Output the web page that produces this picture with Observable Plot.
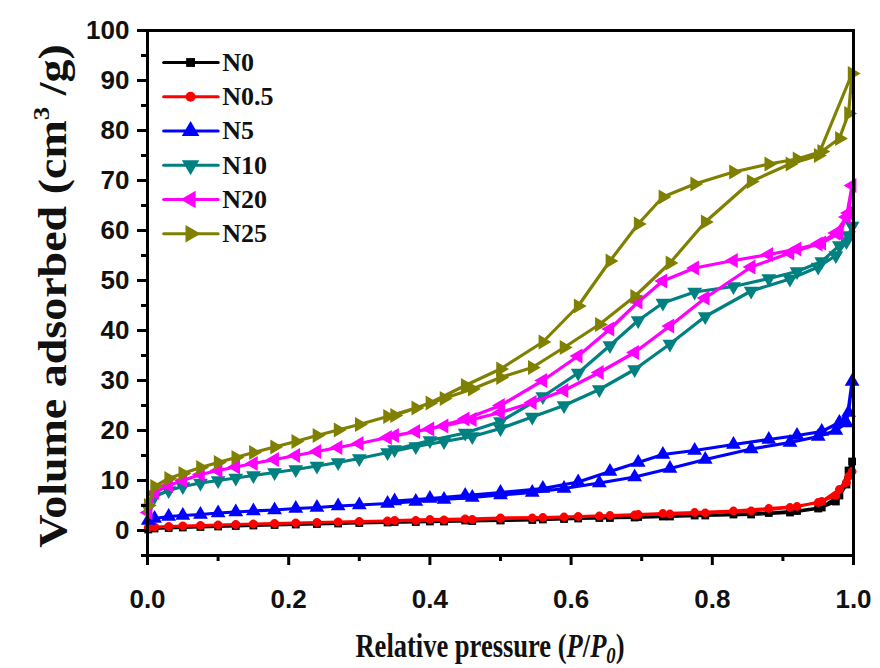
<!DOCTYPE html>
<html><head><meta charset="utf-8">
<script src="https://cdn.jsdelivr.net/npm/d3@7"></script>
<script src="https://cdn.jsdelivr.net/npm/@observablehq/plot@0.6"></script>
<style>
html,body{margin:0;padding:0;background:#fff;}
#chart{width:880px;height:668px;}
</style></head><body><div id="chart"></div>
<script>
// ---- data ----
const seriesNames = ["N0", "N0.5", "N5", "N10", "N20", "N25"];
const seriesColors = ["#000000", "#ff0000", "#0000ff", "#008080", "#ff00ff", "#808000"];
const seriesSymbols = ["square", "circle", "triangle", "triangle", "triangle", "triangle"];
const seriesRotate = [0, 0, 0, 180, -90, 90];

// relative pressure of adsorption points (increasing) and desorption points (decreasing)
const adsP = [0.001, 0.01, 0.03, 0.05, 0.075, 0.1, 0.125, 0.15, 0.18, 0.21, 0.24, 0.27, 0.3, 0.34, 0.38,
  0.42, 0.46, 0.5, 0.545, 0.59, 0.64, 0.69, 0.74, 0.79, 0.855, 0.91, 0.95, 0.975, 0.99, 0.998];
const desP = [0.993, 0.98, 0.955, 0.92, 0.88, 0.83, 0.775, 0.73, 0.695, 0.655, 0.61, 0.56, 0.5, 0.45, 0.4, 0.35];

// volume adsorbed (cm3/g); null = no point at that pressure
const adsN0 = [0.2, 0.4, 0.5, 0.6, 0.7, 0.8, 0.9, 1.0, 1.1, 1.2, 1.3, 1.4, 1.5, 1.6, 1.7,
  1.8, 1.9, 2.0, 2.1, 2.3, 2.5, 2.6, 2.8, 3.0, 3.2, 3.6, 4.4, 5.8, 9.2, 13.8];
const desN0 = [12.0, 7.0, 4.6, 3.9, 3.5, 3.2, 3.0, 2.8, 2.7, 2.5, 2.4, 2.2, 2.1, 2.0, 1.8, 1.7];

const adsN05 = [0.5, 0.7, 0.8, 0.9, 1.0, 1.1, 1.2, 1.3, 1.4, 1.5, 1.6, 1.7, 1.8, 1.9, 2.0,
  2.1, 2.2, 2.4, 2.5, 2.7, 2.9, 3.1, 3.3, 3.5, 3.9, 4.6, 5.6, 7.0, 9.6, 11.8];
const desN05 = [10.8, 8.2, 5.8, 4.8, 4.4, 3.9, 3.6, 3.4, 3.2, 3.0, 2.8, 2.6, 2.5, 2.3, 2.2, 2.0];

const adsN5 = [2.0, 2.4, 2.8, 3.0, 3.2, 3.5, 3.7, 3.9, 4.1, 4.4, 4.6, 4.9, 5.1, 5.4, 5.8,
  6.2, 6.6, 7.1, 7.6, 8.4, 9.5, 10.7, 12.4, 14.2, 16.3, 17.6, 18.8, 20.0, 21.5, 29.8];
const desN5 = [23.6, 21.6, 19.8, 19.0, 18.2, 17.2, 16.0, 15.2, 13.6, 11.8, 9.7, 8.4, 7.6, 7.0, 6.4, 5.9];

const adsN10 = [4.5, 6.8, 8.0, 8.8, 9.5, 10.0, 10.5, 11.0, 11.6, 12.2, 12.9, 13.6, 14.4, 15.6, 16.8,
  17.8, 18.8, 20.4, 22.7, 25.0, 28.2, 32.2, 37.3, 42.8, 47.9, 50.3, 52.7, 55.0, 57.8, 60.9];
const desN10 = [59.0, 57.0, 53.8, 51.8, 50.4, 48.8, 47.7, 45.5, 42.0, 37.0, 31.5, 26.8, 21.8, 19.5, 18.0, 16.2];

const adsN20 = [3.6, 7.6, 9.0, 10.0, 11.2, 12.0, 12.7, 13.4, 14.2, 15.0, 15.8, 16.6, 17.4, 18.6, 19.8,
  20.9, 22.2, 23.6, 25.6, 28.0, 31.6, 35.6, 40.9, 46.5, 52.7, 55.5, 57.3, 59.5, 62.7, 69.0];
const desN20 = [63.5, 59.5, 57.5, 56.3, 55.2, 54.0, 52.5, 49.9, 45.7, 40.3, 34.9, 30.0, 25.0, 22.3, 20.3, 19.0];

const adsN25 = [5.0, 8.8, 10.4, 11.4, 12.6, 13.6, 14.6, 15.6, 16.7, 17.8, 19.0, 20.1, 21.2, 22.8, 24.5,
  26.4, 28.3, 30.6, 32.6, 36.6, 41.2, 46.8, 53.5, 61.7, 69.8, 73.3, 75.0, null, null, 91.4];
const desN25 = [83.4, 78.4, 75.8, 74.3, 73.3, 71.7, 69.3, 66.7, 61.3, 53.9, 44.9, 37.7, 32.3, 29.0, 25.5, 23.0];

const adsorption = [adsN0, adsN05, adsN5, adsN10, adsN20, adsN25];
const desorption = [desN0, desN05, desN5, desN10, desN20, desN25];

// ---- build table ----
function seriesRows(i) {
  const rows = [];
  adsP.forEach((p, k) => { const v = adsorption[i][k]; if (v != null) rows.push({P: p, V: v}); });
  desP.forEach((p, k) => { const v = desorption[i][k]; if (v != null) rows.push({P: p, V: v}); });
  return rows;
}

// legend layout (inside the frame, top-left)
const legX0 = 0.023, legX1 = 0.1, legXMark = 0.061, legXText = 0.106, legTop = 93.6, legStep = 6.85;

const marks = [];
seriesNames.forEach((name, i) => {
  const rows = seriesRows(i);
  marks.push(Plot.line(rows, {x: "P", y: "V", stroke: seriesColors[i], strokeWidth: 3.2, curve: "linear"}));
  marks.push(Plot.dot(rows, {x: "P", y: "V", symbol: seriesSymbols[i], rotate: seriesRotate[i],
    fill: seriesColors[i], stroke: "none", r: seriesSymbols[i] === "triangle" ? 5.5 : 4.4}));
});
seriesNames.forEach((name, i) => {
  const V = legTop - i * legStep;
  marks.push(Plot.line([{P: legX0, V}, {P: legX1, V}], {x: "P", y: "V", stroke: seriesColors[i], strokeWidth: 3.2}));
  marks.push(Plot.dot([{P: legXMark, V}], {x: "P", y: "V", symbol: seriesSymbols[i], rotate: seriesRotate[i],
    fill: seriesColors[i], r: seriesSymbols[i] === "triangle" ? 6.5 : 5}));
  marks.push(Plot.text([{P: legXText, V, t: name}], {x: "P", y: "V", text: "t", textAnchor: "start",
    fontFamily: "Liberation Serif", fontWeight: "bold", fontSize: 26, fill: "#111"}));
});

const tickFont = {fontFamily: "Liberation Sans", fontWeight: "bold", fontSize: 26, fill: "#111"};
marks.push(
  Plot.axisY({ticks: d3.range(0, 101, 10), tickSize: 10, tickPadding: 8, strokeWidth: 3, label: null, ...tickFont}),
  Plot.axisY({ticks: d3.range(-5, 100, 10), tickSize: 6, strokeWidth: 3, tickFormat: () => "", label: null}),
  Plot.axisX({ticks: d3.range(0, 1.01, 0.2), tickSize: 10, tickPadding: 24, strokeWidth: 3, label: null,
    tickFormat: d3.format(".1f"), ...tickFont}),
  Plot.axisX({ticks: [0.1, 0.3, 0.5, 0.7, 0.9], tickSize: 6, strokeWidth: 3, tickFormat: () => "", label: null}),
  Plot.frame({stroke: "#000", strokeWidth: 3})
);

const chart = Plot.plot({
  width: 880, height: 668,
  marginLeft: 147, marginRight: 27, marginTop: 30, marginBottom: 113,
  x: {domain: [0, 1], label: null},
  y: {domain: [-5, 100], label: null},
  style: {background: "#fff", color: "#000", overflow: "visible"},
  marks
});

const svg = d3.select(chart);
// y-axis title (condensed across the text height, like the reference)
const yt = svg.append("text")
  .attr("transform", "translate(66,296) rotate(-90) scale(1,0.85)")
  .attr("text-anchor", "middle")
  .attr("font-family", "Liberation Serif").attr("font-weight", "bold").attr("font-size", 46).attr("fill", "#111");
yt.append("tspan").text("Volume adsorbed (cm");
yt.append("tspan").attr("font-size", 27).attr("dy", -20).text("3");
yt.append("tspan").attr("dy", 20).text(" /g)");
// x-axis title (horizontally condensed)
const xt = svg.append("text")
  .attr("transform", "translate(490,657) scale(0.78,1)")
  .attr("text-anchor", "middle")
  .attr("font-family", "Liberation Serif").attr("font-weight", "bold").attr("font-size", 34).attr("fill", "#111");
xt.append("tspan").text("Relative pressure (");
xt.append("tspan").attr("font-style", "italic").text("P");
xt.append("tspan").text("/");
xt.append("tspan").attr("font-style", "italic").text("P");
xt.append("tspan").attr("font-style", "italic").attr("font-size", 24).attr("dy", 6).text("0");
xt.append("tspan").attr("dy", -6).text(")");

document.getElementById("chart").appendChild(chart);
</script>
</body></html>
